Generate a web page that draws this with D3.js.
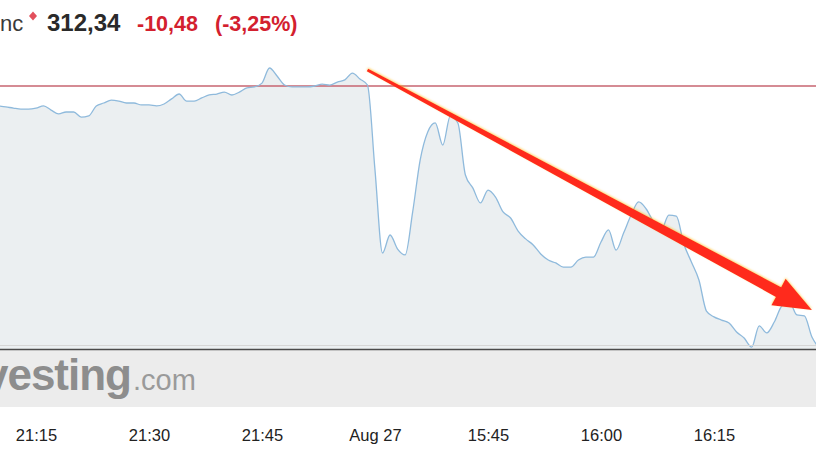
<!DOCTYPE html>
<html>
<head>
<meta charset="utf-8">
<script src="https://cdn.jsdelivr.net/npm/d3@7"></script>
<style>
  html, body { margin: 0; padding: 0; background: #ffffff; }
  svg { display: block; }
</style>
</head>
<body>
<svg id="chart" width="816" height="459"></svg>
<script>
// ---- DATA ----
const startMinute = 10;           // trading-minute index of the first price (21:10)
const prices = [
  322.00, 321.96, 321.91, 321.87, 321.87, 321.91, 322.00, 321.83, 321.67, 321.75,
  321.75, 321.54, 321.59, 322.00, 322.12, 322.24, 322.20, 322.12, 322.12, 322.04,
  322.04, 322.00, 322.08, 322.29, 322.49, 322.20, 322.20, 322.33, 322.45, 322.49,
  322.57, 322.45, 322.57, 322.74, 322.78, 322.94, 323.56, 323.23, 322.86, 322.78,
  322.78, 322.78, 322.82, 322.90, 322.86, 322.98, 323.07, 323.35, 323.11, 322.86,
  319.36, 315.95, 316.69, 316.11, 315.87, 317.64, 319.78, 320.93, 321.30, 320.39,
  321.59, 321.30, 319.16, 318.62, 318.01, 318.54, 318.25, 317.64, 317.39, 316.85,
  316.53, 316.28, 315.91, 315.66, 315.54, 315.37, 315.37, 315.66, 315.78, 315.78,
  316.40, 316.90, 316.07, 316.77, 317.51, 318.05, 317.76, 317.22, 316.90, 317.51,
  317.47, 316.32, 315.58, 314.84, 313.56, 313.32, 313.19, 313.07, 312.70, 312.45,
  312.08, 312.95, 312.66, 313.11, 313.77, 313.93, 313.40, 313.36, 312.49, 312.04
];
const tickMinutes = [15, 30, 45, 60, 75, 90, 105];
const tickLabels  = ["21:15", "21:30", "21:45", "Aug 27", "15:45", "16:00", "16:15"];
const prevClose = 322.82;
const lastPrice = "312,34";
const change = "-10,48";
const changePct = "(-3,25%)";
const companyTail = "nc";
// trend arrow annotation (minute, price)
const arrowStart = [59, 323.48];
const arrowEnd   = [118, 313.60];

// ---- SCALES ----
const x = d3.scaleLinear().domain([15, 105]).range([36, 714]);
const y = d3.scaleLinear().domain([312.0, prevClose]).range([349, 86]);

const svg = d3.select("#chart");
const W = 816;

const data = prices.map((p, i) => ({ m: startMinute + i, v: p }));

// grey band / area base
const bandBottom = 407;

// defs for arrow shadow
const defs = svg.append("defs");
const f = defs.append("filter").attr("id", "glow").attr("x", "-10%").attr("y", "-10%").attr("width", "120%").attr("height", "130%");
f.append("feDropShadow").attr("dx", 0).attr("dy", -1).attr("stdDeviation", 1.2)
  .attr("flood-color", "#ffb400").attr("flood-opacity", 0.55);

// band below baseline
svg.append("rect").attr("x", 0).attr("y", 349).attr("width", W).attr("height", bandBottom - 349)
  .attr("fill", "#ececec");

// area
const area = d3.area()
  .x(d => x(d.m)).y0(349).y1(d => y(d.v))
  .curve(d3.curveMonotoneX);
svg.append("path").datum(data).attr("d", area).attr("fill", "#ebeff1");

// watermark
const wm = svg.append("g");
wm.append("text").attr("x", 131).attr("y", 390)
  .attr("text-anchor", "end")
  .attr("font-family", "Liberation Sans, Arial, sans-serif")
  .attr("font-weight", "bold").attr("font-size", 44)
  .attr("letter-spacing", -1)
  .attr("fill", "#8d8d8d").text("vesting");
wm.append("text").attr("x", 133).attr("y", 390)
  .attr("font-family", "Liberation Sans, Arial, sans-serif")
  .attr("font-size", 29)
  .attr("fill", "#9a9a9a").text(".com");

// previous close line
svg.append("line").attr("x1", 0).attr("x2", W)
  .attr("y1", y(prevClose)).attr("y2", y(prevClose))
  .attr("stroke", "#c76470").attr("stroke-width", 1.3);

// price line
const line = d3.line().x(d => x(d.m)).y(d => y(d.v)).curve(d3.curveMonotoneX);
svg.append("path").datum(data).attr("d", line)
  .attr("fill", "none").attr("stroke", "#8fbadc").attr("stroke-width", 1.3);

// baseline
svg.append("line").attr("x1", 0).attr("x2", W).attr("y1", 345.5).attr("y2", 345.5)
  .attr("stroke", "#d6d6d6").attr("stroke-width", 1);
svg.append("line").attr("x1", 0).attr("x2", W).attr("y1", 349.5).attr("y2", 349.5)
  .attr("stroke", "#4a4a4a").attr("stroke-width", 1.6);

// x axis
const axis = d3.axisBottom(x).tickValues(tickMinutes)
  .tickFormat((d, i) => tickLabels[i]).tickSize(0).tickPadding(0);
const gx = svg.append("g").attr("transform", "translate(0,425)").call(axis);
gx.select(".domain").remove();
gx.selectAll("text")
  .attr("font-family", "Liberation Sans, Arial, sans-serif")
  .attr("font-size", 16.5).attr("fill", "#222").attr("dy", "0.95em");

// header
const hf = "Liberation Sans, Arial, sans-serif";
svg.append("text").attr("x", 0).attr("y", 31).attr("font-family", hf)
  .attr("font-size", 22).attr("fill", "#3a3a3a").text(companyTail);
svg.append("path").attr("d", "M33,11.5 L37,16 L33,20.5 L29,16 Z").attr("fill", "#e2505c");
svg.append("text").attr("x", 47).attr("y", 31).attr("font-family", hf)
  .attr("font-weight", "bold").attr("font-size", 24).attr("fill", "#2a2a2a").text(lastPrice);
svg.append("text").attr("x", 137).attr("y", 31).attr("font-family", hf)
  .attr("font-weight", "bold").attr("font-size", 21.5).attr("fill", "#d3202e").text(change);
svg.append("text").attr("x", 215).attr("y", 31).attr("font-family", hf)
  .attr("font-weight", "bold").attr("font-size", 21.5).attr("fill", "#d3202e").text(changePct);

// trend arrow
const sx = x(arrowStart[0]), sy = y(arrowStart[1]);
const ex = x(arrowEnd[0]),   ey = y(arrowEnd[1]);
const dx = ex - sx, dy = ey - sy, L = Math.hypot(dx, dy);
const ux = dx / L, uy = dy / L, px = -uy, py = ux;
const headLen = 38, headHalf = 15, w0 = 1.5, w1 = 5.5;
const bx = ex - ux * headLen, by = ey - uy * headLen;
const pts = [
  [sx + px * w0, sy + py * w0],
  [bx + px * w1, by + py * w1],
  [bx + px * headHalf, by + py * headHalf],
  [ex, ey],
  [bx - px * headHalf, by - py * headHalf],
  [bx - px * w1, by - py * w1],
  [sx - px * w0, sy - py * w0]
];
svg.append("path").attr("d", d3.line()(pts) + "Z")
  .attr("fill", "#ff2b1c").attr("filter", "url(#glow)");
</script>
</body>
</html>
